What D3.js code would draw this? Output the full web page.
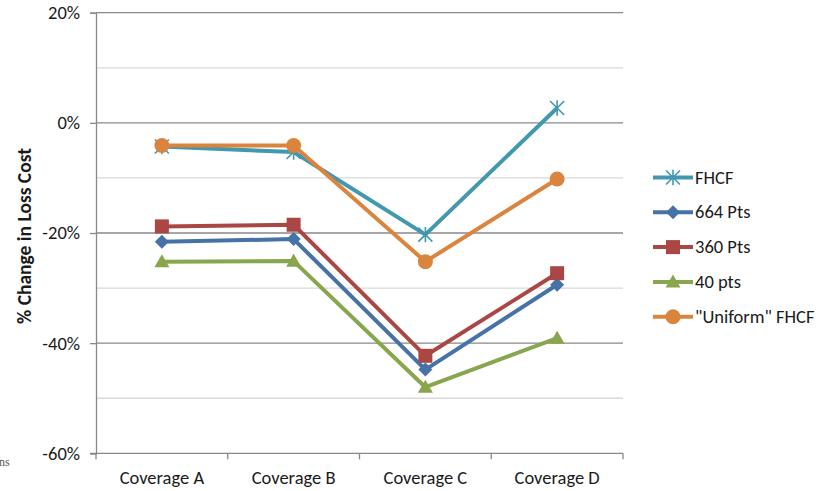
<!DOCTYPE html>
<html>
<head>
<meta charset="utf-8">
<script src="https://cdn.jsdelivr.net/npm/d3@7"></script>
<style>
  html, body { margin: 0; padding: 0; background: #fff; }
  svg { display: block; font-family: Carlito, Lato, "Liberation Sans", sans-serif; }
</style>
</head>
<body>
<svg id="chart" width="828" height="491"></svg>
<script>
// Categories and series (percent change in loss cost)
const categories = ["Coverage A", "Coverage B", "Coverage C", "Coverage D"];
const seriesNames = ["FHCF", "664 Pts", "360 Pts", "40 pts", "\"Uniform\" FHCF"];
const fhcf      = [-4.3, -5.3, -20.3, 2.7];
const pts664    = [-21.6, -21.1, -44.8, -29.4];
const pts360    = [-18.8, -18.5, -42.3, -27.3];
const pts40     = [-25.2, -25.1, -48.0, -39.1];
const uniform   = [-4.1, -4.1, -25.2, -10.2];
const majorTicks = [20, 0, -20, -40, -60];
const majorTickLabels = ["20%", "0%", "-20%", "-40%", "-60%"];
const minorTicks = [10, -10, -30, -50];
const yTitle = "% Change in Loss Cost";

const seriesValues = [fhcf, pts664, pts360, pts40, uniform];
const colors = ["#4198AF", "#4572A7", "#AA4643", "#89A54E", "#DB843D"];
const markers = ["star", "diamond", "square", "triangle", "circle"];

const svg = d3.select("#chart");
const plotL = 96, plotR = 623, plotT = 12.7, plotB = 453.3;
const labelFont = "Carlito, Lato, sans-serif";
const labelSize = 18.5;
const textColor = "#1a1a1a";

const x = d3.scaleBand().domain(categories).range([plotL, plotR]).padding(0);
const y = d3.scaleLinear().domain([-60, 20]).range([plotB, plotT]);

// minor gridlines
svg.append("g").selectAll("line").data(minorTicks).join("line")
  .attr("x1", plotL).attr("x2", plotR)
  .attr("y1", d => y(d)).attr("y2", d => y(d))
  .attr("stroke", "#d9d9d9").attr("stroke-width", 1.3);

// major gridlines
svg.append("g").selectAll("line").data(majorTicks.filter(d => d !== -60)).join("line")
  .attr("x1", plotL).attr("x2", plotR)
  .attr("y1", d => y(d)).attr("y2", d => y(d))
  .attr("stroke", "#898989").attr("stroke-width", 1.3);

// y axis
const yAxis = d3.axisLeft(y).tickValues(majorTicks)
  .tickFormat((d, i) => majorTickLabels[i]).tickSize(6).tickPadding(10);
const gy = svg.append("g").attr("transform", `translate(${plotL},0)`).call(yAxis);
gy.select(".domain").attr("stroke", "#898989").attr("stroke-width", 1.3);
gy.selectAll(".tick line").attr("stroke", "#898989").attr("stroke-width", 1.3);
gy.selectAll(".tick text").attr("font-size", labelSize).attr("fill", textColor)
  .attr("font-family", labelFont);

// x axis: category labels centred, tick marks on category boundaries
const xAxis = d3.axisBottom(x).tickSize(0).tickPadding(18);
const gx = svg.append("g").attr("transform", `translate(0,${plotB})`).call(xAxis);
gx.select(".domain").remove();
gx.selectAll(".tick text").attr("font-size", labelSize).attr("fill", textColor)
  .attr("font-family", labelFont);
svg.append("line").attr("x1", plotL - 6).attr("x2", plotR)
  .attr("y1", plotB).attr("y2", plotB)
  .attr("stroke", "#898989").attr("stroke-width", 1.3);
const bounds = categories.map(c => x(c)).concat([x.range()[1]]);
svg.append("g").selectAll("line").data(bounds).join("line")
  .attr("x1", d => d).attr("x2", d => d)
  .attr("y1", plotB).attr("y2", plotB + 6)
  .attr("stroke", "#898989").attr("stroke-width", 1.3);

// y axis title
svg.append("text")
  .attr("transform", `translate(31,236) rotate(-90)`)
  .attr("text-anchor", "middle")
  .attr("font-size", 19.5).attr("font-weight", "bold").attr("fill", textColor)
  .text(yTitle);

// marker drawing
function markerPath(type, s) {
  const p = d3.path();
  const r = s / 2;
  if (type === "star") {
    p.moveTo(-r, -r); p.lineTo(r, r);
    p.moveTo(r, -r); p.lineTo(-r, r);
    p.moveTo(0, -r * 1.1); p.lineTo(0, r * 1.1);
    return p.toString();
  }
  if (type === "diamond") {
    p.moveTo(0, -r); p.lineTo(r, 0); p.lineTo(0, r); p.lineTo(-r, 0); p.closePath();
    return p.toString();
  }
  if (type === "square") {
    p.rect(-r, -r, s, s);
    return p.toString();
  }
  if (type === "triangle") {
    p.moveTo(0, -r); p.lineTo(r, r * 0.75); p.lineTo(-r, r * 0.75); p.closePath();
    return p.toString();
  }
  p.arc(0, 0, r, 0, 2 * Math.PI);
  return p.toString();
}
const markerSize = { star: 14, diamond: 14, square: 14, triangle: 15, circle: 15 };

function drawMarker(g, type, color, cx, cy) {
  const m = g.append("path").attr("d", markerPath(type, markerSize[type]))
    .attr("transform", `translate(${cx},${cy})`);
  if (type === "star") {
    m.attr("fill", "none").attr("stroke", color).attr("stroke-width", 1.6);
  } else {
    m.attr("fill", color).attr("stroke", "none");
  }
}

const line = d3.line().x((d, i) => x(categories[i]) + x.bandwidth() / 2).y(d => y(d));

seriesValues.forEach((vals, si) => {
  const g = svg.append("g");
  g.append("path").datum(vals).attr("d", line)
    .attr("fill", "none").attr("stroke", colors[si]).attr("stroke-width", 4)
    .attr("stroke-linejoin", "round");
  vals.forEach((v, i) => drawMarker(g, markers[si], colors[si],
    x(categories[i]) + x.bandwidth() / 2, y(v)));
});

// legend
const legend = svg.append("g");
seriesNames.forEach((name, si) => {
  const ly = 177.5 + si * 34.8;
  const g = legend.append("g");
  g.append("line").attr("x1", 653).attr("x2", 693).attr("y1", ly).attr("y2", ly)
    .attr("stroke", colors[si]).attr("stroke-width", 4);
  drawMarker(g, markers[si], colors[si], 673, ly);
  g.append("text").attr("x", 695).attr("y", ly + 6)
    .attr("font-size", labelSize).attr("fill", textColor).text(name);
});

// fragment of source note at lower left
svg.append("text").attr("x", -1).attr("y", 466)
  .attr("font-family", "Liberation Serif, serif").attr("font-size", 12)
  .attr("fill", "#555").text("ns");
</script>
</body>
</html>
